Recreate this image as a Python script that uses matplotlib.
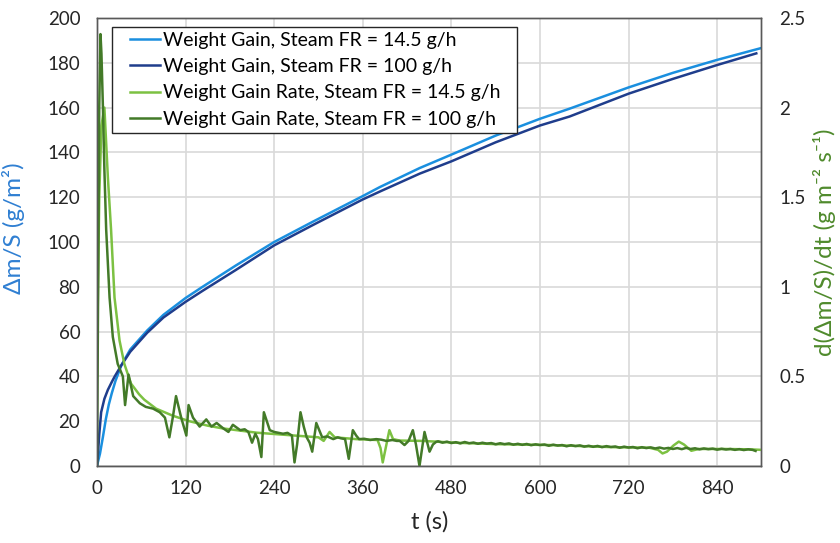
import matplotlib
matplotlib.use("Agg")
import matplotlib.pyplot as plt
from matplotlib.ticker import MultipleLocator, FixedLocator
from matplotlib.legend_handler import HandlerLine2D

plt.rcParams['font.family'] = ['Lato', 'DejaVu Sans']

# ---- data ----
wg145_t = [0, 1, 4, 8, 12, 16, 20, 25, 33, 45, 68, 90, 120, 143, 188, 240, 292, 360, 383, 437, 480, 540, 600, 640, 720, 780, 840, 900]
wg145_v = [0, 1.5, 5.5, 13, 21, 27.5, 32.5, 38, 45, 52, 60.5, 67.5, 75, 80, 89.5, 100, 109, 120.5, 124.5, 133, 139, 147.5, 155, 159.5, 169, 175.5, 181.3, 186.6]

wg100_t = [0, 1, 3, 5.6, 10, 14.7, 20, 24, 33, 45, 68, 90, 120, 143, 188, 240, 292, 360, 383, 437, 480, 540, 600, 640, 720, 780, 840, 893]
wg100_v = [0, 4, 14, 24, 30, 34, 37.5, 40, 45, 51, 59.5, 66.3, 73.3, 78.2, 87.5, 98.5, 107.5, 119, 122.5, 130.5, 136, 144.5, 152, 156, 166.2, 172.8, 179, 184.2]

rate145_t = [0, 1, 3, 6, 10, 14.7, 19, 23.7, 30.5, 37, 46, 57, 64, 80, 103, 125, 150, 170, 216, 261, 300, 307, 315, 322, 351, 380, 384, 387, 391, 396, 401, 410, 441, 486, 540, 613, 700, 748, 760, 766, 772, 781, 788, 795, 805, 815, 850, 884, 900]
rate145_v = [0.5, 0.9, 1.5, 1.9, 2.0, 1.61, 1.32, 0.94, 0.70, 0.57, 0.46, 0.40, 0.37, 0.32, 0.28, 0.25, 0.225, 0.21, 0.186, 0.172, 0.16, 0.14, 0.19, 0.16, 0.15, 0.145, 0.10, 0.02, 0.10, 0.20, 0.15, 0.142, 0.140, 0.13, 0.122, 0.117, 0.105, 0.102, 0.09, 0.07, 0.08, 0.115, 0.136, 0.12, 0.085, 0.095, 0.095, 0.093, 0.09]

rate100_t = [0, 1.5, 3, 4.7, 6, 8, 10, 12.4, 17, 21.4, 28, 35, 38, 42.7, 49, 58, 66, 76, 85, 92, 98, 103, 107, 114, 121, 124, 130, 139, 148, 155, 162, 171, 178, 184, 194, 200, 205, 210, 214.5, 218, 222.6, 226, 234, 240, 246, 252, 258, 264, 267.5, 271, 275.6, 280, 284, 288, 291.5, 297, 305, 312, 320, 326, 330, 336, 341, 346.5, 351, 355, 362, 370, 378, 385, 392, 400, 406, 410, 416.5, 422, 427.8, 432, 436.8, 443.6, 450.4, 455, 459.4,
             462, 468, 474, 480, 486, 492, 498, 504, 510, 516, 522, 528, 534, 540, 546, 552, 558, 564, 570, 576, 582, 588, 594, 600, 606, 612, 618, 624, 630, 636, 642, 648, 654, 660, 666, 672, 678, 684, 690, 696, 702, 708, 714, 720, 726, 732, 738, 744, 750, 756, 762, 768, 774, 780, 786, 792, 798, 804, 810, 816, 822, 828, 834, 840, 846, 852, 858, 864, 870, 876, 882, 888, 892]
rate100_v = [0.0, 1.0, 2.0, 2.41, 2.3, 2.0, 1.65, 1.32, 0.94, 0.72, 0.57, 0.50, 0.34, 0.51, 0.39, 0.35, 0.33, 0.32, 0.30, 0.27, 0.16, 0.28, 0.39, 0.27, 0.17, 0.34, 0.27, 0.22, 0.26, 0.22, 0.24, 0.21, 0.19, 0.23, 0.20, 0.205, 0.19, 0.13, 0.18, 0.15, 0.05, 0.30, 0.20, 0.19, 0.185, 0.18, 0.185, 0.17, 0.02, 0.12, 0.30, 0.22, 0.16, 0.13, 0.08, 0.24, 0.16, 0.165, 0.15, 0.16, 0.155, 0.15, 0.04, 0.20, 0.17, 0.15, 0.152, 0.145, 0.15, 0.147, 0.14, 0.145, 0.14, 0.14, 0.117, 0.14, 0.20, 0.12, 0.0, 0.19, 0.08, 0.12, 0.135,
             .138, .130, .136, .128, .133, .126, .134, .127, .131, .124, .130, .125, .128, .121, .127, .122, .126, .119, .124, .118, .123, .116, .121, .117, .120, .113, .119, .114, .117, .110, .116, .111, .115, .108, .113, .107, .112, .105, .111, .106, .109, .102, .108, .103, .106, .099, .105, .100, .104, .098, .103, .097, .101, .095, .100, .094, .101, .095, .099, .093, .098, .094, .097, .091, .096, .092, .095, .090, .094, .089, .093, .090, .084]

labels = ["Weight Gain, Steam FR = 14.5 g/h",
          "Weight Gain, Steam FR = 100 g/h",
          "Weight Gain Rate, Steam FR = 14.5 g/h",
          "Weight Gain Rate, Steam FR = 100 g/h"]
x_ticks = [0, 120, 240, 360, 480, 600, 720, 840]
y2_ticks = [0, 0.5, 1, 1.5, 2, 2.5]
y2_ticklabels = ["0", "0.5", "1", "1.5", "2", "2.5"]

c_lblue = '#1a8fdf'
c_dblue = '#1f3d8c'
c_lgreen = '#7cc142'
c_dgreen = '#437a28'

fig = plt.figure(figsize=(8.4, 5.43), dpi=100)
ax = fig.add_axes([0.1155, 0.1418, 0.791, 0.8251])
ax2 = ax.twinx()

l1, = ax.plot(wg145_t, wg145_v, color=c_lblue, lw=1.8, label=labels[0])
l2, = ax.plot(wg100_t, wg100_v, color=c_dblue, lw=1.8, label=labels[1])
l3, = ax2.plot(rate145_t, rate145_v, color=c_lgreen, lw=1.8, label=labels[2])
l4, = ax2.plot(rate100_t, rate100_v, color=c_dgreen, lw=1.8, label=labels[3])

ax.set_xlim(0, 900)
ax.set_ylim(0, 200)
ax2.set_ylim(0, 2.5)
ax.xaxis.set_major_locator(FixedLocator(x_ticks))
ax.yaxis.set_major_locator(MultipleLocator(20))
ax2.yaxis.set_major_locator(FixedLocator(y2_ticks))
ax2.set_yticklabels(y2_ticklabels)

ax.grid(True, color='#d9d9d9', lw=1.2)
ax.set_axisbelow(True)

for a in (ax, ax2):
    for s in a.spines.values():
        s.set_color('#595959')
        s.set_linewidth(1.0)
ax.tick_params(axis='y', length=0, labelsize=13.5, colors='#262626', pad=12)
ax.tick_params(axis='x', length=0, labelsize=13.5, colors='#262626', pad=10)
ax2.tick_params(axis='y', length=0, labelsize=13.5, colors='#262626', pad=13)

ax.set_xlabel("t (s)", fontsize=17, color='#262626', labelpad=10)
ax.set_ylabel("Δm/S (g/m²)", fontsize=17.5, color='#2f7fd2')
ax.yaxis.set_label_coords(-0.109, 0.53)
ax2.set_ylabel("d(Δm/S)/dt (g m⁻² s⁻¹)", fontsize=17.5, color='#4f8a2c', labelpad=5)

hmap = {l: HandlerLine2D(xpad=0.67) for l in (l1, l2, l3, l4)}
leg = ax2.legend(handles=[l1, l2, l3, l4], loc='upper left',
                 bbox_to_anchor=(0.022, 0.5, 0.6095, 0.48), mode='expand',
                 borderaxespad=0, fontsize=14, frameon=True, fancybox=False,
                 edgecolor='#262626', framealpha=1, handlelength=2.22, handletextpad=0.15,
                 labelspacing=0.48, borderpad=0.25, handler_map=hmap)
leg.get_frame().set_linewidth(1.0)

fig.savefig("out.png", dpi=100)
